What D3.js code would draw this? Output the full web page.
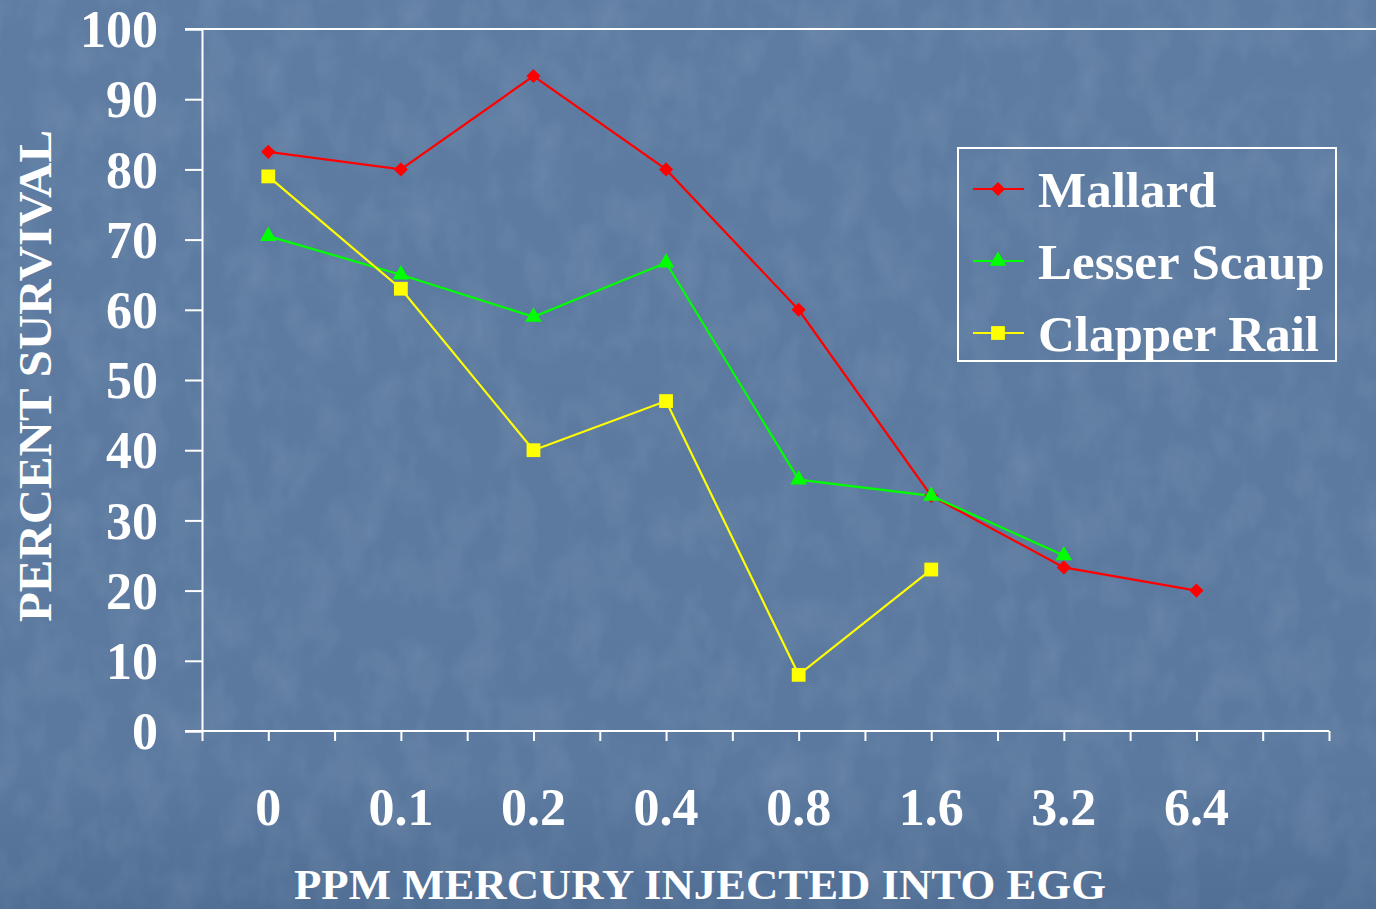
<!DOCTYPE html>
<html>
<head>
<meta charset="utf-8">
<script src="https://cdn.jsdelivr.net/npm/d3@7"></script>
<style>
  html, body { margin: 0; padding: 0; background: #5a79a0; }
  #chartArea svg { display: block; }
</style>
</head>
<body>
<div id="chartArea"></div>
<script>
// dose categories (ppm mercury injected into egg)
const doses = ["0", "0.1", "0.2", "0.4", "0.8", "1.6", "3.2", "6.4"];
const speciesNames = ["Mallard", "Lesser Scaup", "Clapper Rail"];
const mallard     = [82.5, 80, 93.3, 80, 60, 33.5, 23.3, 20];
const lesserScaup = [70.5, 65, 59, 66.7, 35.8, 33.5, 25, null];
const clapperRail = [79, 63, 40, 47, 8, 23, null, null];
const yTicks = [0, 10, 20, 30, 40, 50, 60, 70, 80, 90, 100];

const width = 1376, height = 909;
const margin = {top: 29, right: 47, bottom: 178, left: 202};

const svg = d3.select("#chartArea")
  .append("svg")
  .attr("width", width)
  .attr("height", height);

// textured blue slide background
const defs = svg.append("defs");
const grad = defs.append("linearGradient")
  .attr("id", "bgGrad").attr("x1", 0).attr("y1", 0).attr("x2", 0).attr("y2", 1);
grad.append("stop").attr("offset", "0%").attr("stop-color", "#5e7ca2");
grad.append("stop").attr("offset", "85%").attr("stop-color", "#5b799f");
grad.append("stop").attr("offset", "100%").attr("stop-color", "#516f95");

const filt = defs.append("filter").attr("id", "grain")
  .attr("x", 0).attr("y", 0).attr("width", "100%").attr("height", "100%");
filt.append("feTurbulence")
  .attr("type", "fractalNoise")
  .attr("baseFrequency", "0.03 0.02")
  .attr("numOctaves", 3)
  .attr("seed", 11)
  .attr("result", "noise");
filt.append("feColorMatrix")
  .attr("in", "noise")
  .attr("type", "matrix")
  .attr("values", "0 0 0 0 1  0 0 0 0 1  0 0 0 0 1  0 0 0 0.5 -0.2");

svg.append("rect").attr("width", width).attr("height", height).attr("fill", "url(#bgGrad)");
svg.append("rect").attr("width", width).attr("height", height)
  .attr("filter", "url(#grain)").attr("opacity", 0.3);

// scales: categories sit at half-steps of a linear index scale
const x = d3.scaleLinear()
  .domain([-0.5, doses.length])
  .range([margin.left, width - margin.right]);
const y = d3.scaleLinear()
  .domain([0, 100])
  .range([height - margin.bottom, margin.top]);

const fontFam = "'Liberation Serif', 'Times New Roman', serif";

// top rule across slide
svg.append("line")
  .attr("x1", margin.left - 17).attr("x2", width)
  .attr("y1", y(100)).attr("y2", y(100))
  .attr("stroke", "white").attr("stroke-width", 2);

// y axis
const yAxis = svg.append("g")
  .attr("transform", "translate(" + margin.left + ",0)")
  .call(d3.axisLeft(y).tickValues(yTicks).tickSize(17).tickPadding(27));
yAxis.select(".domain").attr("stroke", "white").attr("stroke-width", 2);
yAxis.selectAll(".tick line").attr("stroke", "white").attr("stroke-width", 2);
yAxis.selectAll(".tick text")
  .attr("fill", "white")
  .style("font-family", fontFam)
  .style("font-size", "52px")
  .style("font-weight", "bold")
  .attr("dy", "0.34em");

// x axis with ticks every half category
const xAxis = svg.append("g")
  .attr("transform", "translate(0," + y(0) + ")")
  .call(d3.axisBottom(x).tickValues(d3.range(-0.5, doses.length + 0.01, 0.5)).tickSize(10).tickFormat(""));
xAxis.select(".domain").attr("stroke", "white").attr("stroke-width", 2)
  .attr("d", "M" + (margin.left - 17) + ",0H" + (width - margin.right));
xAxis.selectAll(".tick line").attr("stroke", "white").attr("stroke-width", 2);

svg.append("g").selectAll("text")
  .data(doses)
  .enter()
  .append("text")
  .attr("x", (d, i) => x(i))
  .attr("y", 825)
  .attr("text-anchor", "middle")
  .attr("fill", "white")
  .style("font-family", fontFam)
  .style("font-size", "52px")
  .style("font-weight", "bold")
  .text(d => d);

// axis titles
svg.append("text")
  .attr("x", 700).attr("y", 899)
  .attr("text-anchor", "middle")
  .attr("textLength", 812)
  .attr("lengthAdjust", "spacingAndGlyphs")
  .attr("fill", "white")
  .style("font-family", fontFam)
  .style("font-size", "42px")
  .style("font-weight", "bold")
  .text("PPM MERCURY INJECTED INTO EGG");

svg.append("text")
  .attr("transform", "translate(51,376) rotate(-90)")
  .attr("text-anchor", "middle")
  .attr("textLength", 492)
  .attr("lengthAdjust", "spacingAndGlyphs")
  .attr("fill", "white")
  .style("font-family", fontFam)
  .style("font-size", "47px")
  .style("font-weight", "bold")
  .text("PERCENT  SURVIVAL");

// series
const series = [
  {name: speciesNames[0], values: mallard, color: "#ff0000", shape: d3.symbolSquare, size: 100, rot: 45},
  {name: speciesNames[1], values: lesserScaup, color: "#00ff00", shape: d3.symbolTriangle, size: 120, rot: 0},
  {name: speciesNames[2], values: clapperRail, color: "#ffff00", shape: d3.symbolSquare, size: 190, rot: 0}
];

const line = d3.line()
  .defined(d => d != null)
  .x((d, i) => x(i))
  .y(d => y(d));

const plot = svg.append("g");
series.forEach(function(s) {
  plot.append("path")
    .datum(s.values)
    .attr("d", line)
    .attr("fill", "none")
    .attr("stroke", s.color)
    .attr("stroke-width", 2.2);
});
series.forEach(function(s) {
  plot.selectAll(null)
    .data(s.values.map((v, i) => ({v: v, i: i})).filter(d => d.v != null))
    .enter()
    .append("path")
    .attr("transform", d => "translate(" + x(d.i) + "," + y(d.v) + ") rotate(" + s.rot + ")")
    .attr("d", d3.symbol().type(s.shape).size(s.size))
    .attr("fill", s.color);
});

// legend
const legend = svg.append("g").attr("transform", "translate(958,148)");
legend.append("rect")
  .attr("x", 0).attr("y", 0).attr("width", 378).attr("height", 213)
  .attr("fill", "none").attr("stroke", "white").attr("stroke-width", 2);
const rows = legend.selectAll("g.row")
  .data(series)
  .enter()
  .append("g")
  .attr("class", "row")
  .attr("transform", (d, i) => "translate(0," + (41 + i * 72) + ")");
rows.append("line")
  .attr("x1", 15).attr("x2", 66)
  .attr("stroke", d => d.color).attr("stroke-width", 2.2);
rows.append("path")
  .attr("transform", d => "translate(40,0) rotate(" + d.rot + ")")
  .attr("d", d => d3.symbol().type(d.shape).size(d.size)())
  .attr("fill", d => d.color);
rows.append("text")
  .attr("x", 80).attr("y", 0).attr("dy", "0.35em")
  .attr("fill", "white")
  .style("font-family", fontFam)
  .style("font-size", "51px")
  .style("font-weight", "bold")
  .text(d => d.name);
</script>
</body>
</html>
